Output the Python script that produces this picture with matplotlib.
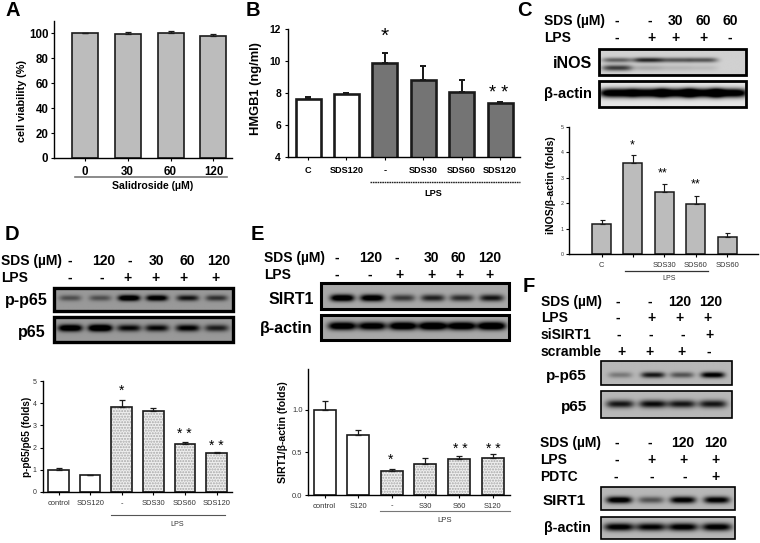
import numpy as np
import matplotlib
matplotlib.use("Agg")
import matplotlib.pyplot as plt
from matplotlib.patches import Rectangle

plt.rcParams['font.family'] = ['Liberation Sans', 'DejaVu Sans']

W, H = 760, 543

# bar data
a_labels = ['0', '30', '60', '120']
a_vals = [100, 99.5, 100.2, 98]
a_errs = [0, 1.6, 1.5, 1.5]

b_labels = ['C', 'SDS120', '-', 'SDS30', 'SDS60', 'SDS120']
b_vals = [7.65, 7.95, 9.9, 8.8, 8.05, 7.38]
b_errs = [0.1, 0.08, 0.58, 0.9, 0.78, 0.06]

c_labels = ['C', '', 'SDS30', 'SDS60', 'SDS60']
c_vals = [1.17, 3.57, 2.43, 1.97, 0.67]
c_errs = [0.15, 0.32, 0.31, 0.31, 0.14]

d_labels = ['control', 'SDS120', '-', 'SDS30', 'SDS60', 'SDS120']
d_vals = [1.0, 0.77, 3.83, 3.65, 2.18, 1.75]
d_errs = [0.06, 0.01, 0.3, 0.13, 0.07, 0.03]

e_labels = ['control', 'S120', '-', 'S30', 'S60', 'S120']
e_vals = [1.0, 0.7, 0.28, 0.37, 0.42, 0.44]
e_errs = [0.11, 0.06, 0.03, 0.06, 0.04, 0.04]

# band strength in each lane of the blots
c_inos_top = [0.45, 0.7, 0.5, 0.5, 0.0]
c_inos_low = [0.6, 0.15, 0.1, 0.08, 0.0]
c_actin = [1.2, 1.2, 1.2, 1.2, 1.2]
d_pp65 = [0.3, 0.3, 0.85, 0.75, 0.55, 0.42]
d_p65 = [0.85, 0.95, 0.6, 0.6, 0.65, 0.5]
e_sirt1 = [0.9, 0.85, 0.45, 0.55, 0.5, 0.6]
e_actin = [0.9, 0.85, 0.95, 1.0, 0.95, 1.0]
f_pp65 = [0.25, 0.65, 0.4, 0.8]
f_p65 = [0.65, 0.7, 0.65, 0.65]
f_sirt1 = [0.85, 0.4, 0.8, 0.8]
f_actin = [0.8, 0.75, 0.8, 0.8]

fig = plt.figure(figsize=(W / 100, H / 100), dpi=100)


def px_axes(x0, y0, x1, y1):
    return fig.add_axes([x0 / W, 1 - y1 / H, (x1 - x0) / W, (y1 - y0) / H])


def chart(box, c0, dc, vals, errs, labels, colors, ylim, yticks, bw, lw=1.8, ytick_fs=8, xtick_fs=5, ylabel='',
          yl_fs=8, yl_pos=(-0.2, 0.5), tick_color='black', ytick_fmt='%g', hatched=None, cap=2.5, tick_w=True, pad=1.5):
    ax = px_axes(*box)
    x = np.arange(len(vals))
    ax.set_xlim((box[0] - c0) / dc, (box[2] - c0) / dc)
    ax.set_ylim(*ylim)
    if hatched is not None:
        ax.bar(x[hatched:], vals[hatched:], bw / dc, color='#efefef', edgecolor='#a8a8a8', hatch='......', lw=0)
        colors = ['white'] * hatched + ['none'] * (len(vals) - hatched)
    ax.bar(x, vals, bw / dc, color=colors, edgecolor='#1a1a1a', lw=lw,
           yerr=[np.zeros(len(errs)), errs], error_kw=dict(ecolor='#1a1a1a', lw=lw * 0.75, capsize=cap, capthick=lw * 0.75))
    for s in ['top', 'right']:
        ax.spines[s].set_visible(False)
    for s in ['left', 'bottom']:
        ax.spines[s].set_linewidth(1.0)
    ax.set_xticks(x)
    ax.set_xticklabels(labels, fontsize=xtick_fs, fontweight='bold' if tick_w else 'normal', color=tick_color)
    ax.set_yticks(yticks)
    ax.set_yticklabels([ytick_fmt % t for t in yticks], fontsize=ytick_fs,
                       fontweight='bold' if tick_w else 'normal', color=tick_color)
    ax.tick_params(length=2.5, width=0.8, pad=pad)
    ax.tick_params(axis='x', pad=pad + 1.5)
    ax.set_ylabel(ylabel, fontsize=yl_fs, fontweight='bold')
    ax.yaxis.set_label_coords(*yl_pos)
    return ax


chart((54, 21, 232, 158), 84.5, 43, a_vals, a_errs, a_labels, '#bcbcbc', (0, 110), [0, 20, 40, 60, 80, 100], 26,
      lw=1.2, ytick_fs=8.3, xtick_fs=8.3, ylabel='cell viability (%)', yl_fs=7.8, yl_pos=(-0.15, 0.416))
chart((288, 29, 520, 157), 308, 38.4, b_vals, b_errs, b_labels, ['white', 'white'] + ['#747474'] * 4, (4, 12),
      [4, 6, 8, 10, 12], 25, lw=1.9, ytick_fs=7.4, xtick_fs=6.6, ylabel='HMGB1 (ng/ml)', yl_fs=9.3,
      yl_pos=(-0.112, 0.535), pad=2.5)
chart((569, 127, 758, 254), 601.5, 31.4, c_vals, c_errs, c_labels, '#bcbcbc', (0, 5), [0, 1, 2, 3, 4, 5], 19,
      lw=1.1, ytick_fs=3.8, xtick_fs=5.4, ylabel='iNOS/\u03b2-actin (folds)', yl_fs=7.6, yl_pos=(-0.069, 0.54),
      tick_color='#333333', cap=1.8, tick_w=False)
chart((43, 381, 232, 492), 58.5, 31.6, d_vals, d_errs, d_labels, 'white', (0, 5), [0, 1, 2, 3, 4, 5], 20.5,
      lw=1.2, ytick_fs=5, xtick_fs=5.4, ylabel='p-p65/p65 (folds)', yl_fs=7.2, yl_pos=(-0.058, 0.5),
      tick_color='#333333', hatched=2, tick_w=False, pad=2)
chart((308, 369, 510, 495), 324.5, 33.6, e_vals, e_errs, e_labels, 'white', (0, 1.48), [0, 0.5, 1.0], 22,
      lw=1.2, ytick_fs=5.4, xtick_fs=5.5, ylabel='SIRT1/\u03b2-actin (folds)', yl_fs=7.6, yl_pos=(-0.099, 0.5),
      tick_color='#333333', ytick_fmt='%.1f', hatched=2, tick_w=False)

# everything else goes on a pixel overlay
ov = fig.add_axes([0, 0, 1, 1], zorder=5)
ov.patch.set_alpha(0)
ov.axis('off')
ov.set_autoscale_on(False)
ov.set_xlim(0, W)
ov.set_ylim(H, 0)


def blot(box, lanes, bands, bg=0.7, bw=13, lw=2.0):
    x0, y0, x1, y1 = box
    xx, yy = np.meshgrid(np.linspace(x0, x1, 200), np.linspace(y0, y1, 60))
    img = np.full(xx.shape, bg)
    for yc, h, strengths in bands:
        for c, s in zip(lanes, strengths):
            img -= s * np.exp(-((xx - c) / bw) ** 4 - ((yy - yc) / h) ** 2)
    ov.imshow(np.clip(img, 0, 1), cmap='gray', vmin=0, vmax=1, aspect='auto',
              extent=(x0, x1, y1, y0), interpolation='bilinear')
    ov.add_patch(Rectangle((x0, y0), x1 - x0, y1 - y0, fill=False, ec='black', lw=lw))


def label(x, y, s, fs=10, ha='left', **kw):
    kw.setdefault('fontweight', 'bold')
    ov.text(x, y, s, fontsize=fs, ha=ha, va='center', **kw)


def row(x, y, name, xs, marks, fs=10):
    label(x, y, name, fs)
    for xm, m in zip(xs, marks):
        label(xm, y, m, fs, ha='center')


c_x = [617, 648, 676, 703, 730]
blot((599, 49, 746, 75), c_x, [(60, 2.5, c_inos_top), (68, 3, c_inos_low)], bg=0.82, bw=15)
blot((599, 81, 746, 107), c_x, [(93, 4.5, c_actin)], bg=0.9, bw=18)
d_x = [70, 100, 129, 157, 188, 217]
blot((54, 288, 233, 311), d_x, [(298, 3, d_pp65)], bg=0.6, bw=11, lw=2.4)
blot((54, 317, 233, 342), d_x, [(328, 3.5, d_p65)], bg=0.6, bw=12, lw=2.4)
e_x = [342, 372, 403, 433, 462, 492]
blot((321, 283, 509, 309), e_x, [(298, 3.5, e_sirt1)], bg=0.66, bw=12, lw=2.2)
blot((321, 315, 509, 340), e_x, [(326, 4, e_actin)], bg=0.66, bw=14, lw=2.2)
f_x = [620, 653, 682, 713]
blot((601, 361, 732, 385), f_x, [(375, 3, f_pp65)], bg=0.72, bw=12, lw=1.2)
blot((601, 391, 732, 418), f_x, [(404, 4, f_p65)], bg=0.72, bw=14, lw=1.2)
f2_x = [619, 651, 683, 717]
blot((601, 487, 735, 510), f2_x, [(500, 3.5, f_sirt1)], bg=0.72, bw=13, lw=1.2)
blot((601, 517, 735, 539), f2_x, [(527, 4, f_actin)], bg=0.72, bw=15, lw=1.2)

# panel letters
for letter, x, y in [('A', 5, 10), ('B', 246, 10), ('C', 517, 10), ('D', 5, 234), ('E', 251, 234), ('F', 523, 286)]:
    label(x, y, letter, 14.5)

# treatment rows
row(544, 21, 'SDS (\u00b5M)', [617, 650, 675, 703, 730], ['-', '-', '30', '60', '60'])
row(544, 38, 'LPS', [617, 651, 675, 703, 730], ['-', '+', '+', '+', '-'])
label(592, 63, 'iNOS', 11.5, ha='right')
label(592, 94, '\u03b2-actin', 10.5, ha='right')

row(1, 261, 'SDS (\u00b5M)', [70, 104, 130, 156, 187, 219], ['-', '120', '-', '30', '60', '120'])
row(1, 278, 'LPS', [70, 102, 128, 156, 184, 216], ['-', '-', '+', '+', '+', '+'])
label(48, 300, 'p-p65', 11.5, ha='right')
label(46, 332, 'p65', 11.5, ha='right')

row(264, 258, 'SDS (\u00b5M)', [337, 371, 397, 431, 458, 490], ['-', '120', '-', '30', '60', '120'])
row(264, 275, 'LPS', [337, 370, 399, 431, 459, 490], ['-', '-', '+', '+', '+', '+'])
label(314, 299, 'SIRT1', 11.5, ha='right')
label(313, 328, '\u03b2-actin', 11.5, ha='right')

f_top = [618, 650, 680, 711]
row(541, 302, 'SDS (\u00b5M)', f_top, ['-', '-', '120', '120'])
row(541, 318, 'LPS', [618, 651, 679, 707], ['-', '+', '+', '+'])
row(541, 335, 'siSIRT1', [619, 651, 683, 709], ['-', '-', '-', '+'])
row(541, 352, 'scramble', [622, 650, 682, 709], ['+', '+', '+', '-'])
label(587, 376, 'p-p65', 11, ha='right')
label(587, 407, 'p65', 11, ha='right')

f_low = [617, 650, 683, 716]
row(540, 443, 'SDS (\u00b5M)', f_low, ['-', '-', '120', '120'])
row(540, 460, 'LPS', [617, 651, 683, 715], ['-', '+', '+', '+'])
row(540, 477, 'PDTC', [616, 652, 685, 715], ['-', '-', '-', '+'])
label(586, 501, 'SIRT1', 11, ha='right')
label(591, 528, '\u03b2-actin', 10.4, ha='right')

# group lines and significance stars
label(153, 186, 'Salidroside (\u00b5M)', 7.6, ha='center')
ov.plot([75, 227], [177, 177], color='#777777', lw=1.2)
ov.plot([370, 520], [182, 182], color='#222222', lw=1, ls=(0, (1.2, 0.5)))
label(433, 193, 'LPS', 6.6, ha='center')
ov.plot([625, 708], [271, 271], color='#333333', lw=0.9)
label(669, 279, 'LPS', 5, ha='center', fontweight='normal', color='#333333')
ov.plot([111, 225], [515, 515], color='#555555', lw=0.8)
label(177, 524, 'LPS', 5.2, ha='center', fontweight='normal', color='#333333')
ov.plot([380, 510], [511, 511], color='#777777', lw=0.8)
label(445, 521, 'LPS', 5.6, ha='center', fontweight='normal', color='#333333')

for x, y, s, fs in [(385, 36, '*', 15), (499, 94, '* *', 13), (632.5, 145, '*', 9), (663, 173, '**', 9),
                    (695.5, 184, '**', 9), (122, 391, '*', 10), (184.5, 434, '* *', 10), (216, 446, '* *', 10),
                    (391, 460, '*', 10), (460, 449, '* *', 10), (493, 449, '* *', 10)]:
    label(x, y, s, fs, ha='center', fontweight='normal')

fig.savefig('out.png', dpi=100)
